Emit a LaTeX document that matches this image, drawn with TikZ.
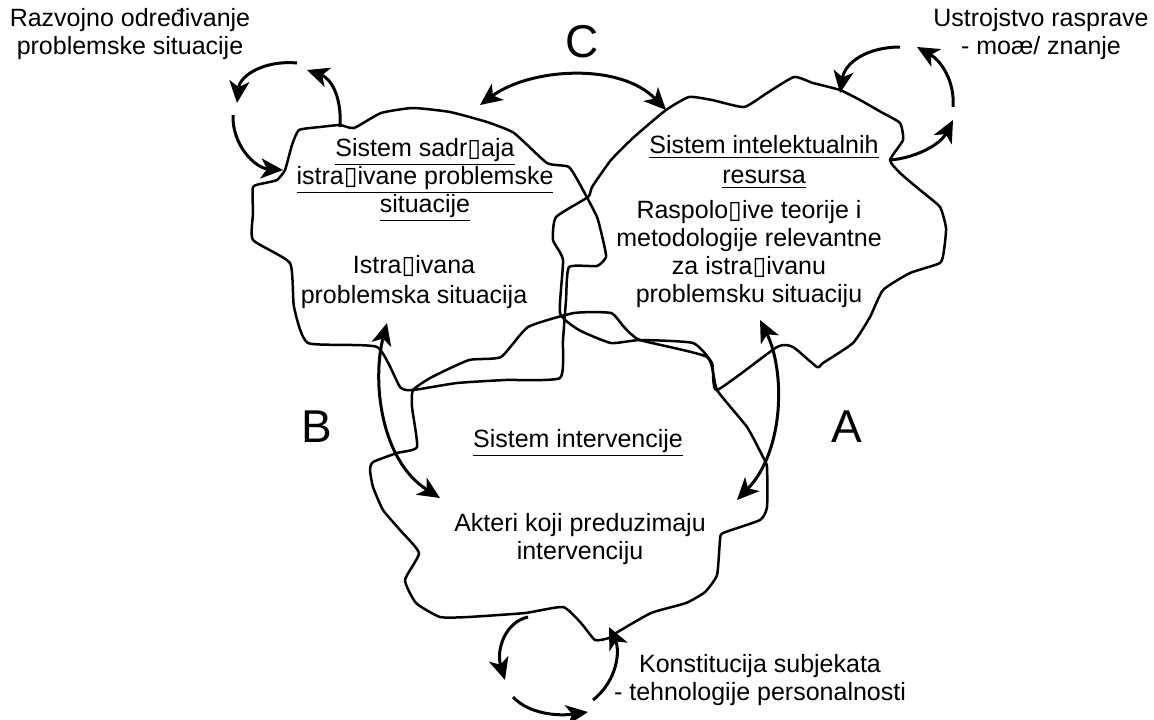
\documentclass[tikz,border=0pt]{standalone}
\usepackage{fontspec}
\setmainfont{Liberation Sans}
\newfontfamily\symfont{DejaVu Sans}
\usetikzlibrary{arrows.meta}
\newcommand{\nog}{{\symfont ▯}}

\begin{document}
\begin{tikzpicture}[x=0.5pt,y=-0.5pt,
	cloud/.style={line width=1.25pt, line join=round},
	arr/.style={line width=1.5pt, -{Stealth[length=11pt,width=10pt,inset=3pt]}},
	darr/.style={line width=1.5pt, {Stealth[length=11pt,width=10pt,inset=3pt]}-{Stealth[length=11pt,width=10pt,inset=3pt]}},
	txt/.style={align=center, inner sep=0pt, font=\fontsize{12.5}{14}\selectfont},
	big/.style={inner sep=0pt, font=\fontsize{23}{26}\selectfont}]
	\useasboundingbox (0,0) rectangle (1154,719);

	\draw[cloud] plot[smooth cycle, tension=0.3] coordinates {(285,170) (292,145) (299,130) (320,127) (340,125) (354,128) (381,113) (413,108) (450,112) (487,122) (514,133) (547,163) (569,167) (583,190) (597,217) (603,240) (606,257) (597,266) (569,267) (566,300) (563,340) (560,378) (505,380) (457,383) (413,390) (400,387) (377,347) (308,343) (294,307) (290,263) (253,240) (253,213) (253,187) (265,183) (277,180)};
	\draw[cloud] plot[smooth cycle, tension=0.3] coordinates {(666,110) (689,97) (712,100) (744,107) (767,93) (794,77) (813,83) (840,90) (860,100) (881,112) (900,123) (903,140) (890,160) (900,173) (920,190) (940,207) (946,228) (944,250) (940,263) (910,273) (883,290) (870,317) (853,343) (823,363) (817,367) (793,347) (777,347) (717,390) (712,363) (693,343) (640,340) (611,343) (579,330) (560,313) (563,260) (553,240) (556,217) (588,197) (592,187) (611,160) (634,137)};
	\draw[cloud] plot[smooth cycle, tension=0.3] coordinates {(413,390) (432,377) (469,360) (501,357) (528,327) (574,313) (611,313) (624,327) (640,340) (707,357) (717,390) (747,427) (763,457) (767,467) (767,507) (760,520) (723,533) (720,540) (717,575) (705,592) (686,603) (651,613) (616,633) (609,638) (595,640) (581,623) (563,607) (525,613) (468,617) (440,617) (416,603) (405,580) (419,553) (400,530) (383,510) (373,487) (370,470) (373,462) (397,453) (417,447) (412,407)};

	\node (sadrzaj) at (425,180) [txt] {\underline{Sistem sadr\nog aja}\\\underline{istra\nog ivane problemske}\\\underline{situacije}};
	\node (situacija) at (414,282) [txt, font=\fontsize{12.5}{15}\selectfont] {Istra\nog ivana\\problemska situacija};
	\node (resursi) at (764,162) [txt, font=\fontsize{12.5}{15}\selectfont] {\underline{Sistem intelektualnih}\\\underline{resursa}};
	\node (teorije) at (749,254) [txt] {Raspolo\nog ive teorije i\\metodologije relevantne\\za istra\nog ivanu\\problemsku situaciju};
	\node (intervencija) at (578,443) [txt] {\underline{Sistem intervencije}};
	\node (akteri) at (580,539) [txt] {Akteri koji preduzimaju\\intervenciju};
	\node (razvoj) at (130,34) [txt] {Razvojno određivanje\\problemske situacije};
	\node (ustroj) at (1041,34) [txt] {Ustrojstvo rasprave\\- moæ/ znanje};
	\node (konst) at (760,680) [txt] {Konstitucija subjekata\\- tehnologije personalnosti};
	\node (labelA) at (847,427) [big] {A};
	\node (labelB) at (317,427) [big] {B};
	\node (labelC) at (582,42) [big] {C};

	\coordinate (rz1) at (297,63);
	\coordinate (rz2) at (237,103);
	\coordinate (rz3) at (233,115);
	\coordinate (rz4) at (283,170);
	\coordinate (rz5) at (340,127);
	\coordinate (rz6) at (307,70);
	\coordinate (us1) at (900,47);
	\coordinate (us2) at (840,93);
	\coordinate (us3) at (953,107);
	\coordinate (us4) at (917,47);
	\coordinate (us5) at (890,160);
	\coordinate (us6) at (953,120);
	\coordinate (ks1) at (528,617);
	\coordinate (ks2) at (505,680);
	\coordinate (ks3) at (513,697);
	\coordinate (ks4) at (588,712);
	\coordinate (ks5) at (593,700);
	\coordinate (ks6) at (609,627);
	\coordinate (c1) at (480,105);
	\coordinate (c2) at (666,110);
	\coordinate (b1) at (387,323);
	\coordinate (b2) at (440,498);
	\coordinate (a1) at (760,320);
	\coordinate (a2) at (737,500);

	\draw[arr] (rz1) .. controls (265,60) and (240,75) .. (rz2);
	\draw[arr] (rz3) .. controls (232,145) and (255,168) .. (rz4);
	\draw[arr] (rz5) .. controls (342,95) and (330,78) .. (rz6);
	\draw[arr] (us1) .. controls (868,47) and (845,62) .. (us2);
	\draw[arr] (us3) .. controls (955,80) and (940,60) .. (us4);
	\draw[arr] (us5) .. controls (915,158) and (940,145) .. (us6);
	\draw[arr] (ks1) .. controls (505,622) and (496,650) .. (ks2);
	\draw[arr] (ks3) .. controls (530,715) and (560,716) .. (ks4);
	\draw[arr] (ks5) .. controls (618,680) and (620,650) .. (ks6);
	\draw[darr] (c1) .. controls (530,68) and (620,62) .. (c2);
	\draw[darr] (b1) .. controls (372,380) and (380,460) .. (b2);
	\draw[darr] (a1) .. controls (785,370) and (785,450) .. (a2);
\end{tikzpicture}
\end{document}
